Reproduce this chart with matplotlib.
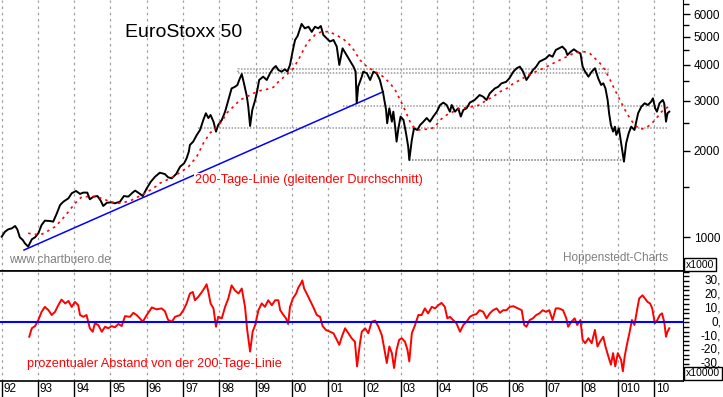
import matplotlib
matplotlib.use("Agg")
import matplotlib.pyplot as plt
from matplotlib.ticker import FixedLocator, NullFormatter, MultipleLocator
from matplotlib.transforms import offset_copy

plt.rcParams['font.family'] = ['Liberation Sans', 'DejaVu Sans']

# EuroStoxx 50
price_years = [
    1992.00, 1992.09, 1992.18, 1992.28, 1992.37, 1992.43, 1992.50, 1992.58, 1992.64, 1992.73,
    1992.83, 1992.92, 1993.01, 1993.10, 1993.19, 1993.33, 1993.42, 1993.52, 1993.61, 1993.70,
    1993.84, 1993.93, 1994.05, 1994.16, 1994.25, 1994.36, 1994.43, 1994.53, 1994.64, 1994.73,
    1994.80, 1994.90, 1995.03, 1995.12, 1995.26, 1995.37, 1995.49, 1995.61, 1995.68, 1995.79,
    1995.89, 1996.00, 1996.11, 1996.23, 1996.36, 1996.50, 1996.59, 1996.69, 1996.81, 1996.92,
    1997.03, 1997.10, 1997.16, 1997.19, 1997.28, 1997.38, 1997.47, 1997.56, 1997.63, 1997.70,
    1997.76, 1997.84, 1997.91, 1997.97, 1998.07, 1998.16, 1998.25, 1998.34, 1998.43, 1998.50,
    1998.55, 1998.62, 1998.68, 1998.76, 1998.80, 1998.85, 1998.91, 1998.99, 1999.05, 1999.10,
    1999.21, 1999.31, 1999.40, 1999.49, 1999.56, 1999.63, 1999.72, 1999.81, 1999.88, 1999.95,
    2000.03, 2000.09, 2000.16, 2000.23, 2000.27, 2000.36, 2000.46, 2000.55, 2000.64, 2000.73,
    2000.80, 2000.87, 2000.96, 2001.05, 2001.15, 2001.24, 2001.31, 2001.40, 2001.51, 2001.62,
    2001.70, 2001.76, 2001.79, 2001.83, 2001.93, 2001.97, 2002.07, 2002.16, 2002.25, 2002.34,
    2002.43, 2002.52, 2002.60, 2002.63, 2002.69, 2002.76, 2002.80, 2002.85, 2002.89, 2002.94,
    2003.00, 2003.08, 2003.15, 2003.21, 2003.24, 2003.31, 2003.37, 2003.46, 2003.54, 2003.63,
    2003.72, 2003.81, 2003.90, 2004.00, 2004.09, 2004.18, 2004.27, 2004.36, 2004.41, 2004.50,
    2004.59, 2004.66, 2004.73, 2004.82, 2004.91, 2005.04, 2005.18, 2005.28, 2005.37, 2005.46,
    2005.60, 2005.69, 2005.78, 2005.91, 2006.00, 2006.11, 2006.20, 2006.29, 2006.38, 2006.47,
    2006.56, 2006.65, 2006.74, 2006.83, 2006.92, 2007.01, 2007.10, 2007.19, 2007.28, 2007.37,
    2007.46, 2007.55, 2007.60, 2007.69, 2007.78, 2007.87, 2007.96, 2008.02, 2008.09, 2008.18,
    2008.27, 2008.36, 2008.45, 2008.53, 2008.59, 2008.65, 2008.71, 2008.75, 2008.80, 2008.86,
    2008.91, 2008.95, 2009.02, 2009.07, 2009.13, 2009.16, 2009.22, 2009.29, 2009.36, 2009.45,
    2009.55, 2009.64, 2009.73, 2009.82, 2009.91, 2009.96, 2010.02, 2010.07, 2010.14, 2010.23,
    2010.27, 2010.32, 2010.36, 2010.41]
price_values = [
    1005, 1046, 1066, 1075, 1095, 1066, 1000, 979, 953, 928,
    984, 1000, 1033, 1104, 1143, 1140, 1134, 1212, 1296, 1331,
    1368, 1424, 1451, 1417, 1432, 1432, 1357, 1386, 1393, 1342,
    1286, 1320, 1324, 1314, 1331, 1393, 1386, 1432, 1455, 1424,
    1393, 1482, 1562, 1627, 1680, 1662, 1619, 1606, 1662, 1763,
    1812, 1886, 1990, 2099, 2156, 2275, 2368, 2566, 2708, 2606,
    2671, 2531, 2337, 2465, 2566, 2741, 3012, 3306, 3348, 3398,
    3537, 3710, 3446, 3103, 2856, 2445, 2780, 3012, 3264, 3537,
    3633, 3537, 3733, 3885, 3957, 3832, 3781, 3854, 3781, 3990,
    4501, 4877, 5037, 5355, 5548, 5355, 5425, 5205, 5425, 5355,
    5458, 5077, 4945, 4817, 4877, 4625, 3990, 4562, 4323, 4099,
    3939, 3781, 2934, 3353, 3633, 3781, 3733, 3537, 3781, 3733,
    3537, 3178, 2780, 2499, 2818, 2531, 2743, 2431, 2157, 2400,
    2636, 2566, 2306, 2071, 1861, 2185, 2400, 2368, 2465, 2531,
    2606, 2531, 2636, 2743, 2894, 2950, 2894, 2743, 2894, 2743,
    2818, 2636, 2780, 2818, 2950, 3012, 3135, 3092, 3012, 3178,
    3306, 3348, 3441, 3485, 3585, 3781, 3885, 3938, 3781, 3537,
    3681, 3832, 3938, 4099, 4153, 4209, 4323, 4264, 4501, 4562,
    4625, 4501, 4323, 4436, 4525, 4436, 4379, 3938, 3781, 3633,
    3781, 3885, 3585, 3398, 3446, 3306, 3012, 2708, 2465, 2337,
    2431, 2275, 2400, 2185, 1963, 1836, 2127, 2306, 2431, 2368,
    2708, 2856, 2934, 2894, 2973, 3053, 2818, 2743, 2934, 3012,
    2934, 2531, 2708, 2743]

# 200-Tage-Linie
ma_years = [
    1992.73, 1993.06, 1993.24, 1993.47, 1993.65, 1993.84, 1994.02, 1994.21, 1994.39, 1994.57,
    1994.76, 1994.99, 1995.17, 1995.35, 1995.59, 1995.77, 1995.95, 1996.18, 1996.37, 1996.55,
    1996.73, 1996.96, 1997.15, 1997.38, 1997.56, 1997.74, 1997.93, 1998.07, 1998.20, 1998.39,
    1998.57, 1998.76, 1998.94, 1999.12, 1999.31, 1999.49, 1999.63, 1999.77, 1999.90, 2000.04,
    2000.18, 2000.32, 2000.45, 2000.64, 2000.82, 2001.01, 2001.19, 2001.42, 2001.65, 2001.88,
    2002.07, 2002.30, 2002.52, 2002.71, 2002.85, 2002.99, 2003.12, 2003.26, 2003.35, 2003.49,
    2003.67, 2003.81, 2003.95, 2004.09, 2004.27, 2004.45, 2004.64, 2004.86, 2005.18, 2005.37,
    2005.55, 2005.74, 2005.93, 2006.11, 2006.29, 2006.48, 2006.66, 2006.84, 2007.03, 2007.21,
    2007.39, 2007.58, 2007.76, 2007.95, 2008.08, 2008.22, 2008.36, 2008.50, 2008.64, 2008.78,
    2008.91, 2009.05, 2009.19, 2009.33, 2009.46, 2009.60, 2009.74, 2009.88, 2010.02, 2010.16,
    2010.29, 2010.43]
ma_values = [
    1033, 1019, 1046, 1089, 1149, 1228, 1314, 1386, 1386, 1386,
    1368, 1331, 1314, 1320, 1349, 1386, 1424, 1482, 1546, 1584,
    1627, 1695, 1763, 1912, 2127, 2306, 2431, 2531, 2708, 2856,
    3012, 3092, 3178, 3245, 3282, 3335, 3485, 3612, 3733, 3885,
    4153, 4501, 4817, 5077, 5215, 5215, 5106, 4915, 4625, 4153,
    3938, 3781, 3633, 3446, 3264, 3012, 2780, 2531, 2431, 2368,
    2381, 2381, 2431, 2566, 2671, 2743, 2818, 2837, 2894, 3012,
    3092, 3218, 3306, 3441, 3537, 3652, 3751, 3832, 3938, 4045,
    4153, 4264, 4379, 4436, 4436, 4379, 4209, 4045, 3832, 3537,
    3264, 3012, 2780, 2589, 2465, 2381, 2400, 2465, 2566, 2708,
    2818, 2856]

# prozentualer Abstand (%)
dev_years = [
    1992.76, 1992.83, 1992.92, 1993.01, 1993.10, 1993.19, 1993.29, 1993.38, 1993.47, 1993.56,
    1993.65, 1993.75, 1993.84, 1993.93, 1994.02, 1994.11, 1994.16, 1994.25, 1994.34, 1994.43,
    1994.51, 1994.57, 1994.66, 1994.76, 1994.85, 1994.94, 1995.03, 1995.12, 1995.22, 1995.31,
    1995.40, 1995.54, 1995.63, 1995.72, 1995.81, 1995.89, 1996.00, 1996.14, 1996.27, 1996.41,
    1996.50, 1996.59, 1996.69, 1996.78, 1996.92, 1997.01, 1997.10, 1997.19, 1997.27, 1997.33,
    1997.42, 1997.52, 1997.61, 1997.65, 1997.70, 1997.76, 1997.84, 1997.91, 1997.97, 1998.07,
    1998.16, 1998.25, 1998.34, 1998.43, 1998.53, 1998.62, 1998.71, 1998.77, 1998.85, 1998.92,
    1998.99, 1999.08, 1999.17, 1999.26, 1999.35, 1999.45, 1999.54, 1999.63, 1999.68, 1999.77,
    1999.84, 1999.90, 1999.95, 2000.03, 2000.12, 2000.18, 2000.25, 2000.29, 2000.34, 2000.41,
    2000.50, 2000.59, 2000.69, 2000.78, 2000.85, 2000.94, 2001.05, 2001.15, 2001.24, 2001.31,
    2001.38, 2001.47, 2001.56, 2001.65, 2001.74, 2001.80, 2001.88, 2001.93, 2002.02, 2002.11,
    2002.20, 2002.30, 2002.39, 2002.48, 2002.54, 2002.62, 2002.69, 2002.76, 2002.82, 2002.89,
    2002.96, 2003.03, 2003.12, 2003.19, 2003.24, 2003.31, 2003.40, 2003.49, 2003.58, 2003.67,
    2003.76, 2003.86, 2003.95, 2004.04, 2004.13, 2004.22, 2004.29, 2004.36, 2004.45, 2004.54,
    2004.64, 2004.73, 2004.82, 2004.91, 2005.00, 2005.09, 2005.18, 2005.28, 2005.37, 2005.46,
    2005.55, 2005.65, 2005.74, 2005.83, 2005.92, 2006.01, 2006.11, 2006.24, 2006.34, 2006.41,
    2006.47, 2006.56, 2006.65, 2006.74, 2006.83, 2006.92, 2007.01, 2007.10, 2007.19, 2007.28,
    2007.37, 2007.48, 2007.57, 2007.62, 2007.71, 2007.80, 2007.87, 2007.96, 2008.02, 2008.09,
    2008.18, 2008.27, 2008.36, 2008.43, 2008.50, 2008.59, 2008.65, 2008.73, 2008.80, 2008.86,
    2008.92, 2008.99, 2009.08, 2009.13, 2009.18, 2009.25, 2009.31, 2009.38, 2009.45, 2009.52,
    2009.58, 2009.67, 2009.74, 2009.81, 2009.88, 2009.94, 2010.01, 2010.08, 2010.15, 2010.21,
    2010.27, 2010.32, 2010.36, 2010.41]
dev_values = [
    -10.4, -4.3, -2.7, 1.7, 7.6, 11.2, 8.8, 5.3, 7.6, 12.4,
    16.5, 13.7, 15.5, 11.2, 14.8, 12.4, 5.3, 4.0, 5.3, -4.3,
    -6.8, -0.7, -1.9, -6.8, -3.2, -4.3, -2.7, -3.6, -1.2, -2.7,
    4.5, 4.0, 6.9, 5.3, 2.9, 0.4, 5.3, 10.8, 9.4, 10.1,
    8.1, 1.7, 0.4, 4.0, 5.3, 8.8, 13.7, 20.9, 22.0, 16.0,
    18.4, 22.0, 25.6, 27.6, 22.0, 13.7, 10.1, -3.2, 4.0, 2.9,
    11.2, 17.3, 26.8, 23.2, 20.9, 24.5, 11.2, -5.5, -21.2, -6.8,
    -1.9, 8.8, 13.7, 11.2, 16.0, 12.4, 16.0, 16.0, 8.8, 5.3,
    2.9, -1.2, 11.2, 17.3, 20.9, 25.2, 28.1, 30.4, 24.5, 20.9,
    16.0, 11.2, 5.3, 4.0, -2.7, -5.5, -6.8, -7.9, -12.7, -16.3,
    -10.4, -4.3, -7.9, -11.5, -14.0, -31.9, -15.1, -6.8, -4.3, -7.9,
    0.4, 1.2, -3.2, -9.1, -17.5, -29.5, -17.5, -22.3, -33.1, -19.9,
    -12.7, -11.5, -14.0, -19.9, -28.3, -7.9, -1.9, 5.3, 5.3, 10.1,
    6.5, 11.2, 10.1, 12.4, 14.1, 11.2, 2.9, 4.0, 1.7, -0.7,
    -6.8, -1.9, 0.4, 4.0, 5.3, 6.0, 8.8, 7.6, 2.9, 6.5,
    8.8, 10.1, 6.9, 8.8, 8.8, 11.2, 11.7, 10.1, 8.8, -1.9,
    -3.2, 1.7, 2.9, 5.3, 6.5, 8.8, 7.6, 8.8, 1.7, 10.1,
    10.1, 8.8, 2.9, -3.2, 0.4, 2.9, -1.9, 1.7, -12.7, -15.1,
    -11.5, -15.1, -5.5, -17.5, -14.0, -10.4, -17.5, -24.7, -30.7, -22.3,
    -31.9, -22.3, -27.1, -35.5, -24.7, -15.1, -7.9, 1.7, -1.9, 8.8,
    17.3, 19.6, 17.3, 14.8, 13.7, 10.1, -0.7, 1.7, 5.3, 6.5,
    0.4, -10.4, -6.8, -4.3]

# Trendlinie und Marken
trend_years = [1992.615, 2002.524]
trend_values = [903, 3220]
level_values = [2415, 2882, 1856]
level_starts = [1997.42, 2001.42, 2003.24]
level_ends = [2010.35, 2010.35, 2009.10]
level_colors = ['#999999', '#999999', '#777777']
box_years = [1998.53, 2008.71]
box_values = [3751, 3855]

years = list(range(1992, 2011))
year_labels = ["92", "93", "94", "95", "96", "97", "98", "99", "00", "01",
               "02", "03", "04", "05", "06", "07", "08", "010", "10"]
price_ticks = [1000, 2000, 3000, 4000, 5000, 6000]
price_minor = [1500, 2500, 3500, 4500, 5500, 6500]
dev_ticks = [30, 20, 10, 0, -10, -20, -30]
dev_labels = ["30,", "20,", "10,", "0,", "-10,", "-20,", "-30,"]

W, H = 723, 397
fig = plt.figure(figsize=(W / 100, H / 100), dpi=100)
ax1 = fig.add_axes([0, 1 - 271 / H, 682.7 / W, 271 / H])
ax2 = fig.add_axes([0, 1 - 381 / H, 682.7 / W, 110 / H])

xlim = (1991.953, 2010.78)
grid_style = dict(linestyle=(0, (2, 3)), color='#a0a0a0', linewidth=0.9)

# --- oberer Teil: Kurs
ax1.plot(price_years, price_values, color='black', lw=1.4, zorder=4)
ax1.plot(ma_years, ma_values, color='red', lw=1.2, ls=(0, (1.5, 2.5)), zorder=5)
ax1.plot(trend_years, trend_values, color='blue', lw=1.1, zorder=3)
for v, a, b, c in zip(level_values, level_starts, level_ends, level_colors):
    ax1.plot([a, b], [v, v], color=c, lw=1.1, ls=(0, (1, 1)), zorder=2)
ax1.plot([box_years[0], box_years[1], box_years[1], box_years[0], box_years[0]],
         [box_values[0], box_values[0], box_values[1], box_values[1], box_values[0]],
         color='#999999', lw=1.1, ls=(0, (1, 1)), zorder=2)

ax1.set_yscale('log')
ax1.set_ylim(763, 6724)
ax1.set_xlim(xlim)
ax1.set_xticks(years)
ax1.grid(True, axis='x', **grid_style)
ax1.tick_params(axis='x', bottom=False, labelbottom=False)
ax1.yaxis.tick_right()
ax1.yaxis.set_major_locator(FixedLocator(price_ticks))
ax1.set_yticklabels([str(t) for t in price_ticks])
ax1.yaxis.set_minor_locator(FixedLocator(price_minor))
ax1.yaxis.set_minor_formatter(NullFormatter())
ax1.tick_params(axis='y', which='major', direction='out', length=5, width=1,
                pad=3, labelsize=8.5)
ax1.tick_params(axis='y', which='minor', direction='out', length=4, width=1)
ax1.spines['left'].set_visible(False)
ax1.spines['top'].set_visible(False)
ax1.spines['bottom'].set_linewidth(1.2)

# --- unterer Teil: Abstand
ax2.plot(dev_years, dev_values, color='red', lw=1.4, zorder=3)
ax2.axhline(0, color='blue', lw=1.5, zorder=4)
ax2.set_ylim(-42.5, 37.2)
ax2.set_xlim(xlim)
ax2.set_xticks(years)
ax2.set_xticklabels([])
ax2.grid(True, axis='x', **grid_style)
ax2.tick_params(axis='x', direction='out', length=12, width=1)
ax2.yaxis.tick_right()
ax2.yaxis.set_major_locator(MultipleLocator(10 / 3))
ax2.yaxis.set_major_formatter(NullFormatter())
ax2.tick_params(axis='y', direction='out', length=4, width=1)
ax2.spines['left'].set_visible(False)
ax2.spines['top'].set_linewidth(1.2)
ax2.spines['bottom'].set_linewidth(1.2)

ytrans = ax2.get_yaxis_transform()
for v, lab in zip(dev_ticks, dev_labels):
    ax2.text(721 / 682.7, v, lab, transform=ytrans, ha='right', va='center',
             fontsize=8.5, clip_on=False)

xtrans = offset_copy(ax2.get_xaxis_transform(), fig=fig, x=2, y=0, units='dots')
for yr, lab in zip(years, year_labels):
    ax2.text(yr, -0.077, lab, transform=xtrans, ha='left', va='center',
             fontsize=8.5, clip_on=False)

# --- Beschriftung
fig.text(125 / W, 1 - 36.7 / H, 'EuroStoxx 50', fontsize=14, va='baseline')
fig.text(195 / W, 1 - 183.5 / H, '200-Tage-Linie (gleitender Durchschnitt)',
         color='red', fontsize=9.2, va='baseline',
         bbox=dict(facecolor='white', edgecolor='none', pad=1))
fig.text(9.3 / W, 1 - 262.7 / H, 'www.chartbuero.de', color='#808080',
         fontsize=8.6, va='baseline')
fig.text(563.3 / W, 1 - 261.5 / H, 'Hoppenstedt-Charts', color='#808080',
         fontsize=8.5, va='baseline')
fig.text(26.7 / W, 1 - 367.5 / H, 'prozentualer Abstand von der 200-Tage-Linie',
         color='red', fontsize=9.2, va='baseline')
box = dict(boxstyle='square,pad=0.15', facecolor='white', edgecolor='black', lw=1)
fig.text(686 / W, 1 - 267.5 / H, 'x1000', fontsize=7.5, va='baseline', bbox=box)
fig.text(686 / W, 1 - 376.5 / H, 'x10000', fontsize=7.5, va='baseline', bbox=box)

fig.savefig('out.png', dpi=100)
